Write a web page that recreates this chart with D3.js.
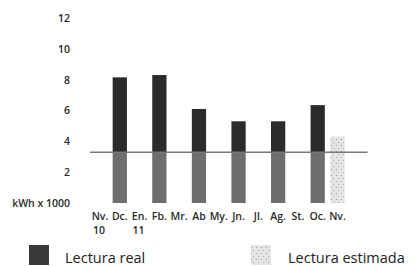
<!DOCTYPE html>
<html>
<head>
<meta charset="utf-8">
<script src="https://cdn.jsdelivr.net/npm/d3@7"></script>
<style>
  body { margin: 0; background: #fff; }
  svg { display: block; font-family: "Open Sans", sans-serif; }
</style>
</head>
<body>
<svg></svg>
<script>
let w = 419;
let h = 266;

// Data
const months = ['Nv.', 'Dc.', 'En.', 'Fb.', 'Mr.', 'Ab', 'My.', 'Jn.', 'Jl.', 'Ag.', 'St.', 'Oc.', 'Nv.'];
const years = ['10', '', '11', '', '', '', '', '', '', '', '', '', ''];
const realIdx = [1, 3, 5, 7, 9, 11];
const realValues = [8.15, 8.3, 6.1, 5.3, 5.3, 6.35];
const estIdx = [12];
const estValues = [4.3];
const average = 3.3;
const yTicks = [0, 2, 4, 6, 8, 10, 12];

const svg = d3.select('svg')
  .attr('width', w)
  .attr('height', h);

// Scales
const xScale = d3.scalePoint()
  .domain(d3.range(months.length))
  .range([100, 337.5]);

const yScale = d3.scaleLinear()
  .domain([0, 12])
  .range([203, 18]);

const bw = xScale.step() * 0.72;

// pattern for estimated reading
const defs = svg.append('defs');
const pat = defs.append('pattern')
  .attr('id', 'dots')
  .attr('patternUnits', 'userSpaceOnUse')
  .attr('width', 5)
  .attr('height', 6);
pat.append('rect').attr('width', 5).attr('height', 6).attr('fill', '#e4e4e4');
pat.append('rect').attr('x', 1).attr('y', 1).attr('width', 1).attr('height', 1).attr('fill', '#9a9a9a');
pat.append('rect').attr('x', 3).attr('y', 4).attr('width', 1).attr('height', 1).attr('fill', '#b0b0b0');

// Y axis
const yAxis = d3.axisLeft(yScale)
  .tickValues(yTicks)
  .tickSize(0)
  .tickPadding(0)
  .tickFormat(d => d === 0 ? 'kWh x 1000' : d);

svg.append('g')
  .attr('transform', 'translate(70,0)')
  .call(yAxis)
  .call(g => g.select('.domain').remove())
  .selectAll('text')
  .attr('font-family', '"Open Sans", sans-serif')
  .attr('font-size', '10.5px')
  .attr('font-weight', 600)
  .attr('fill', '#2a2a2a');

// Real readings: dark above the average line, gray below
const real = realIdx.map((d, i) => ({ i: d, v: realValues[i] }));

svg.selectAll('rect.top')
  .data(real)
  .enter()
  .append('rect')
  .attr('class', 'top')
  .attr('x', d => xScale(d.i) - bw / 2)
  .attr('width', bw)
  .attr('y', d => yScale(d.v))
  .attr('height', d => yScale(average) - yScale(d.v))
  .attr('fill', '#2b2b2b');

svg.selectAll('rect.bottom')
  .data(real)
  .enter()
  .append('rect')
  .attr('class', 'bottom')
  .attr('x', d => xScale(d.i) - bw / 2)
  .attr('width', bw)
  .attr('y', yScale(average))
  .attr('height', yScale(0) - yScale(average))
  .attr('fill', '#6e6e6e');

// Estimated reading
const est = estIdx.map((d, i) => ({ i: d, v: estValues[i] }));
svg.selectAll('rect.est')
  .data(est)
  .enter()
  .append('rect')
  .attr('class', 'est')
  .attr('x', d => xScale(d.i) - bw / 2)
  .attr('width', bw)
  .attr('y', d => yScale(d.v))
  .attr('height', d => yScale(0) - yScale(d.v))
  .attr('fill', 'url(#dots)');

// Average line
svg.append('line')
  .attr('x1', xScale(0) - 10)
  .attr('x2', xScale(months.length - 1) + 30)
  .attr('y1', yScale(average))
  .attr('y2', yScale(average))
  .attr('stroke', '#777')
  .attr('stroke-width', 1.5);

// X labels
const xl = svg.append('g')
  .attr('font-size', '10.5px')
  .attr('font-weight', 600)
  .attr('fill', '#2a2a2a');

xl.selectAll('text.m')
  .data(months)
  .enter()
  .append('text')
  .attr('class', 'm')
  .attr('x', (d, i) => xScale(i))
  .attr('y', 220)
  .attr('text-anchor', 'middle')
  .text(d => d);

xl.selectAll('text.yr')
  .data(years)
  .enter()
  .append('text')
  .attr('class', 'yr')
  .attr('x', (d, i) => xScale(i) - 1)
  .attr('y', 234)
  .attr('text-anchor', 'middle')
  .text(d => d);

// Legend
const legend = svg.append('g');
legend.append('rect')
  .attr('x', 29).attr('y', 245)
  .attr('width', 20).attr('height', 20)
  .attr('fill', '#3a3a3a');
legend.append('text')
  .attr('x', 65).attr('y', 263)
  .attr('font-size', '14.5px')
  .attr('fill', '#222')
  .text('Lectura real');
legend.append('rect')
  .attr('x', 251).attr('y', 245)
  .attr('width', 20).attr('height', 20)
  .attr('fill', 'url(#dots)');
legend.append('text')
  .attr('x', 288).attr('y', 263)
  .attr('font-size', '14.5px')
  .attr('fill', '#222')
  .text('Lectura estimada');
</script>
</body>
</html>
